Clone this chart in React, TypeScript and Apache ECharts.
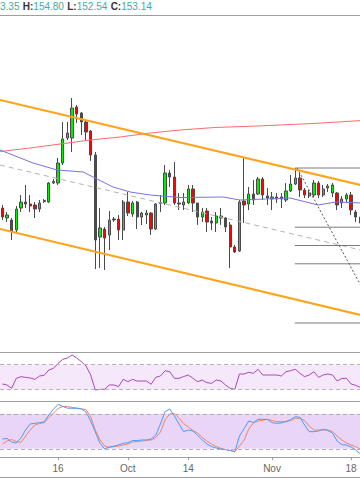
import React, { useEffect, useRef } from "react";
import * as echarts from "echarts";

const categories = [
  "09-04","09-05","09-06","09-07","09-08","09-09","09-10","09-11","09-12","09-13",
  "09-14","09-15","09-16","09-17","09-18","09-19","09-20","09-21","09-22","09-23",
  "09-24","09-25","09-26","09-27","09-28","09-29","09-30",
  "10-01","10-02","10-03","10-04","10-05","10-06","10-07","10-08","10-09","10-10",
  "10-11","10-12","10-13","10-14","10-15","10-16","10-17","10-18","10-19","10-20",
  "10-21","10-22","10-23","10-24","10-25","10-26","10-27","10-28","10-29","10-30","10-31",
  "11-01","11-02","11-03","11-04","11-05","11-06","11-07","11-08","11-09","11-10",
  "11-11","11-12","11-13","11-14","11-15","11-16","11-17","11-18","11-19","11-20",
];

const tickDates = ["09-16", "10-01", "10-14", "11-01", "11-18"];
const tickTexts = ["16", "Oct", "14", "Nov", "18"];

const open = [151.4,149.4,149.0,147.0,151.4,152.6,152.2,152.0,151.2,152.7,
  152.6,156.4,156.4,160.4,165.4,165.4,171.6,170.4,168.6,166.8,
  162.0,145.6,147.2,146.0,149.2,149.2,147.0,152.6,150.2,152.6,
  149.6,150.0,150.4,147.2,152.5,152.4,158.4,157.6,152.4,152.0,
  152.4,155.2,152.4,149.6,150.8,148.8,148.4,149.4,149.4,148.0,
  143.6,142.8,152.8,152.2,154.2,154.2,157.2,153.8,153.2,153.6,
  153.6,153.0,154.8,156.2,157.4,155.0,153.8,154.0,156.4,154.0,
  155.4,154.4,154.4,152.4,153.2,154.0,150.6,149.6];
const close = [149.6,150.0,146.8,151.2,152.6,152.2,151.8,151.2,152.4,152.9,
  156.4,156.7,160.4,165.2,166.4,171.4,170.2,168.6,166.6,162.0,
  145.0,147.4,145.4,149.0,149.0,147.0,152.6,150.4,152.4,149.6,
  150.4,150.4,147.2,152.2,152.3,158.4,157.6,152.4,152.2,152.6,
  155.2,152.4,149.6,150.6,148.6,148.4,149.8,149.8,147.6,143.6,
  142.6,152.6,152.0,154.2,153.0,157.2,154.0,153.4,153.6,153.2,
  153.2,154.8,156.2,157.4,155.0,154.0,154.4,156.4,154.0,155.2,
  155.8,156.0,152.0,153.2,154.0,151.0,149.6,148.4];
const high = [152.0,150.6,149.4,151.8,154.0,156.0,154.0,152.6,153.0,153.2,
  156.6,157.2,161.4,168.6,168.6,173.4,172.0,170.6,169.0,167.0,
  162.6,151.4,147.6,150.8,149.6,150.0,153.0,154.6,152.8,152.8,
  150.6,151.0,150.6,152.4,154.0,160.0,159.0,160.6,154.4,154.4,
  156.0,156.0,152.4,151.4,151.4,149.6,150.6,151.4,149.6,148.6,
  144.0,153.0,161.4,155.6,157.0,157.6,157.6,155.4,154.6,154.4,
  154.4,156.4,158.0,159.4,158.6,155.4,155.0,157.0,156.8,156.0,
  156.2,156.4,154.6,153.8,154.4,154.6,151.0,150.0];
const low = [149.0,148.6,145.0,146.6,150.6,151.4,150.6,149.4,150.6,152.4,
  152.4,156.2,156.0,160.0,165.0,162.6,168.4,166.0,165.0,160.8,
  139.2,139.4,139.0,143.0,148.6,145.0,145.0,149.8,149.6,147.2,
  148.0,148.2,146.0,147.0,150.6,152.0,155.6,152.0,151.0,151.0,
  152.2,150.6,148.0,148.6,146.6,147.0,146.6,148.0,146.6,139.4,
  142.4,142.6,148.4,151.0,152.0,154.0,153.0,152.0,151.0,152.4,
  151.4,152.6,154.6,156.0,153.6,153.4,153.4,153.6,153.4,153.6,
  154.6,153.6,151.0,151.4,152.6,150.0,148.6,147.8];

const rsi = [39.1,37.5,32.2,48.1,50.7,49.7,48.6,46.5,51.8,52.9,
  61.3,64.0,72.0,78.4,80.4,85.2,80.4,74.6,67.7,53.4,
  29.5,30.6,30.6,37.5,37.5,34.8,46.5,42.7,46.5,43.8,
  43.8,43.8,38.6,49.7,51.8,60.2,58.6,48.1,48.1,51.0,
  53.4,48.1,42.7,45.4,41.1,40.2,45.4,43.8,37.5,32.2,
  30.6,55.0,55.0,57.7,56.1,62.5,53.4,53.4,53.4,53.4,
  51.8,58.6,60.2,62.5,56.1,50.7,53.4,58.6,49.7,53.4,
  55.0,53.4,43.8,47.8,48.1,39.1,37.0,33.5];

const stochK = [36.9,37.7,31.7,30.0,38.6,52.3,62.6,63.8,64.8,66.3,
  78.0,88.3,96.0,92.6,89.7,89.5,89.5,88.3,83.1,67.7,
  48.9,29.5,19.7,23.2,24.4,26.6,29.5,30.5,34.3,34.0,
  35.2,35.2,36.9,43.7,62.6,83.7,88.3,76.3,62.6,49.4,
  52.3,50.6,42.9,35.2,28.3,24.0,21.4,19.4,18.4,17.2,
  15.1,42.0,54.9,67.7,65.1,70.6,70.6,70.3,64.8,63.8,
  64.3,66.9,70.0,75.1,74.1,60.9,49.4,49.4,50.6,53.5,
  51.4,47.2,33.4,27.1,26.6,23.2,18.0,11.2];
const stochD = [28.3,33.4,36.0,32.6,30.9,42.0,52.3,60.9,63.4,64.8,
  73.7,81.4,89.1,92.6,92.6,90.9,90.0,88.6,87.4,74.6,
  52.3,35.2,24.9,22.3,24.0,24.9,26.6,28.3,31.7,32.6,
  33.4,34.3,35.2,39.4,48.9,69.4,79.7,80.6,72.3,63.4,
  57.4,51.4,47.2,39.4,33.4,28.3,24.0,20.9,18.9,17.2,
  15.1,24.9,35.2,54.0,64.3,67.7,69.4,70.6,68.6,66.5,
  66.5,66.5,68.6,72.3,72.3,68.6,59.1,52.3,52.3,52.3,
  52.3,49.7,42.0,35.2,30.0,26.6,23.7,19.2];

// moving averages read at points along the curves: [candle index, price]
const maRed = [[-0.5,162.7],[5.95,163.4],[12.4,164.2],[18.9,165.0],[25.3,165.6],[31.8,166.4],
  [38.2,167.0],[45.7,167.5],[54.8,167.8],[66.8,168.3],[77.5,168.9]];
const maBlue = [[-0.5,163.0],[6.6,160.4],[11.8,159.0],[17.4,158.6],[19.5,157.6],[23.8,155.6],
  [27.5,154.6],[31.8,154.0],[38.2,153.5],[47.5,153.6],[51.1,153.0],[56.5,153.2],
  [61.9,153.4],[67.9,152.0],[71.8,152.6],[77.5,152.4]];

const channelUpper = [[-0.5,173.0],[77.5,155.9]];
const channelLower = [[-0.5,147.2],[77.5,129.9]];
const channelMid = [[-0.5,160.0],[77.5,142.9]];

const fibFrom = 62.9;
const fibTo = 77.5;
const fibLevels = [159.4, 147.56, 143.9, 140.24, 128.4];
const fibDiagonal = [[63.4,159.4],[77.5,135.2]];

// header as visible in the reference (the open value is cut at the left edge)
const headerLabels = ["", "H:", "L:", "C:"];
const headerValues = ["3.35", "154.80", "152.54", "153.14"];

const STEP = 4.65;
const GRID_W = categories.length * STEP;

export default function App() {
  const ref = useRef<HTMLDivElement>(null);

  useEffect(() => {
    if (!ref.current) return;
    const chart = echarts.init(ref.current, null, { renderer: "svg" });

    const isTick = (i: number) => tickDates.indexOf(categories[i]) >= 0;
    const font = "Liberation Sans, Arial, sans-serif";

    const headerText = headerLabels
      .map((l, i) => (l ? `{l|${l}}` : "") + `{v|${headerValues[i]}}`)
      .join(" ");

    const borderYs = [15, 352, 401, 457, 477];

    const lineBase = {
      type: "line",
      xAxisIndex: 3,
      yAxisIndex: 0,
      symbol: "none",
      silent: true,
      animation: false,
    };

    const option: any = {
      animation: false,
      backgroundColor: "#ffffff",
      grid: [
        { left: 0, top: 15, width: GRID_W, height: 337, containLabel: false, outerBoundsMode: "none" },
        { left: 0, top: 352, width: GRID_W, height: 49, containLabel: false, outerBoundsMode: "none" },
        { left: 0, top: 401, width: GRID_W, height: 56, containLabel: false, outerBoundsMode: "none" },
      ],
      xAxis: [
        { type: "category", gridIndex: 0, data: categories, show: false },
        { type: "category", gridIndex: 1, data: categories, show: false },
        {
          type: "category",
          gridIndex: 2,
          data: categories,
          axisLine: { show: false },
          axisTick: {
            show: true,
            alignWithLabel: true,
            interval: (i: number) => isTick(i),
            length: 3,
            lineStyle: { color: "#999" },
          },
          axisLabel: {
            interval: (i: number) => isTick(i),
            formatter: (v: string) => {
              const k = tickDates.indexOf(v);
              return k >= 0 ? tickTexts[k] : "";
            },
            color: "#666",
            fontSize: 10,
            fontFamily: font,
            margin: 6,
          },
          splitLine: { show: false },
        },
        { type: "value", gridIndex: 0, min: -0.5, max: categories.length - 0.5, show: false },
      ],
      yAxis: [
        { type: "value", gridIndex: 0, min: 122.6, max: 190, show: false, splitLine: { show: false } },
        { type: "value", gridIndex: 1, min: 12, max: 90, show: false, splitLine: { show: false } },
        { type: "value", gridIndex: 2, min: 6, max: 102, show: false, splitLine: { show: false } },
      ],
      graphic: [
        ...borderYs.map((y) => ({
          type: "line",
          silent: true,
          shape: { x1: 0, y1: y + 0.5, x2: 360, y2: y + 0.5 },
          style: { stroke: "#9e9e9e", lineWidth: 1 },
          z: 100,
        })),
        {
          type: "text",
          silent: true,
          x: 0,
          y: 6,
          style: {
            text: headerText,
            verticalAlign: "middle",
            rich: {
              l: { fill: "#333333", fontWeight: "bold", fontSize: 10, fontFamily: font },
              v: { fill: "#45aaa4", fontSize: 10, fontFamily: font },
            },
          },
          z: 100,
        },
      ],
      series: [
        {
          type: "candlestick",
          xAxisIndex: 0,
          yAxisIndex: 0,
          data: categories.map((_, i) => [open[i], close[i], low[i], high[i]]),
          barWidth: 2.8,
          itemStyle: {
            color: "#00ee00",
            color0: "#ff0000",
            borderColor: "#4a4a4a",
            borderColor0: "#4a4a4a",
            borderWidth: 1,
          },
          z: 2,
        },
        { ...lineBase, data: maRed, lineStyle: { color: "#ff6b6b", width: 1 }, z: 3 },
        { ...lineBase, data: maBlue, lineStyle: { color: "#7474dc", width: 1 }, z: 3 },
        { ...lineBase, data: channelMid, lineStyle: { color: "#b3b3b3", width: 1, type: [5, 4] }, z: 3 },
        ...fibLevels.map((lv) => ({
          ...lineBase,
          data: [[fibFrom, lv], [fibTo, lv]],
          lineStyle: { color: "#7a7a7a", width: 1 },
          z: 3,
        })),
        { ...lineBase, data: fibDiagonal, lineStyle: { color: "#555", width: 1, type: [2, 2] }, z: 4 },
        { ...lineBase, data: channelUpper, lineStyle: { color: "#ffa31a", width: 2 }, z: 5 },
        { ...lineBase, data: channelLower, lineStyle: { color: "#ffa31a", width: 2 }, z: 5 },
        {
          type: "line",
          xAxisIndex: 1,
          yAxisIndex: 1,
          data: rsi,
          symbol: "none",
          silent: true,
          lineStyle: { color: "#ab47bc", width: 1 },
          z: 3,
          markArea: {
            silent: true,
            itemStyle: { color: "#f5e8fb" },
            data: [[{ yAxis: 30 }, { yAxis: 70 }]],
          },
          markLine: {
            silent: true,
            symbol: "none",
            label: { show: false },
            lineStyle: { color: "#b5b5b5", width: 1, type: [4, 3] },
            data: [{ yAxis: 30 }, { yAxis: 70 }],
          },
        },
        {
          type: "line",
          xAxisIndex: 2,
          yAxisIndex: 2,
          data: stochK,
          symbol: "none",
          silent: true,
          lineStyle: { color: "#4c9bf5", width: 1 },
          z: 4,
          markArea: {
            silent: true,
            itemStyle: { color: "#e9d5f8" },
            data: [[{ yAxis: 20 }, { yAxis: 80 }]],
          },
          markLine: {
            silent: true,
            symbol: "none",
            label: { show: false },
            lineStyle: { color: "#b0b0b0", width: 1, type: [4, 3] },
            data: [{ yAxis: 20 }, { yAxis: 80 }],
          },
        },
        {
          type: "line",
          xAxisIndex: 2,
          yAxisIndex: 2,
          data: stochD,
          symbol: "none",
          silent: true,
          lineStyle: { color: "#f4845f", width: 1 },
          z: 3,
        },
      ],
    };

    chart.setOption(option);
    return () => chart.dispose();
  }, []);

  return (
    <div
      ref={ref}
      style={{
        position: "absolute",
        left: 0,
        top: 0,
        width: 360,
        height: 504,
        overflow: "hidden",
        background: "#ffffff",
      }}
    />
  );
}
